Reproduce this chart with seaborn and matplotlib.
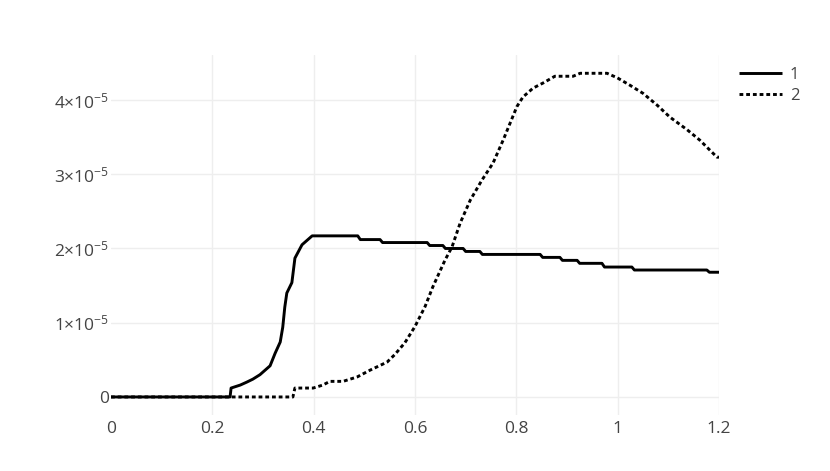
import matplotlib
matplotlib.use("Agg")
import matplotlib.pyplot as plt
import seaborn as sns
import pandas as pd

# series 1 (solid)
x1 = [0.0, 0.235, 0.237, 0.255, 0.268, 0.280, 0.294, 0.314, 0.324, 0.334, 0.339, 0.343,
      0.347, 0.357, 0.363, 0.377, 0.397, 0.487, 0.492, 0.531, 0.536, 0.624, 0.629,
      0.655, 0.660, 0.695, 0.700, 0.728, 0.733, 0.847, 0.852, 0.886, 0.891, 0.920,
      0.925, 0.969, 0.974, 1.028, 1.033, 1.176, 1.181, 1.2]
y1 = [0.0, 0.0, 0.12, 0.16, 0.20, 0.24, 0.30, 0.42, 0.59, 0.74, 0.94, 1.21,
      1.40, 1.54, 1.87, 2.05, 2.17, 2.17, 2.12, 2.12, 2.08, 2.08, 2.04,
      2.04, 2.00, 2.00, 1.96, 1.96, 1.92, 1.92, 1.88, 1.88, 1.84, 1.84,
      1.80, 1.80, 1.75, 1.75, 1.71, 1.71, 1.68, 1.68]

# series 2 (dotted)
x2 = [0.0, 0.359, 0.363, 0.399, 0.418, 0.432, 0.458, 0.486, 0.511, 0.545, 0.560, 0.580,
      0.600, 0.620, 0.635, 0.659, 0.673, 0.689, 0.709, 0.732, 0.754, 0.774, 0.801,
      0.813, 0.833, 0.853, 0.876, 0.912, 0.926, 0.979, 0.999, 1.024, 1.050, 1.078,
      1.103, 1.137, 1.162, 1.196, 1.2]
y2 = [0.0, 0.0, 0.12, 0.12, 0.16, 0.21, 0.21, 0.27, 0.36, 0.47, 0.57, 0.73,
      0.95, 1.22, 1.48, 1.84, 2.02, 2.34, 2.65, 2.92, 3.15, 3.46, 3.91,
      4.04, 4.16, 4.23, 4.32, 4.32, 4.36, 4.36, 4.30, 4.20, 4.09, 3.93,
      3.77, 3.60, 3.46, 3.23, 3.23]

names = ["1", "2"]
xticks = [0, 0.2, 0.4, 0.6, 0.8, 1, 1.2]
xtick_labels = ["0", "0.2", "0.4", "0.6", "0.8", "1", "1.2"]
yticks = [0, 1e-5, 2e-5, 3e-5, 4e-5]
ytick_labels = ["0", r"1×10$^{-5}$", r"2×10$^{-5}$", r"3×10$^{-5}$", r"4×10$^{-5}$"]

sns.set_style("white")
plt.rcParams["font.family"] = ["Open Sans", "DejaVu Sans"]
plt.rcParams["mathtext.fontset"] = "custom"
plt.rcParams["mathtext.rm"] = "Open Sans"
plt.rcParams["mathtext.it"] = "Open Sans"
plt.rcParams["mathtext.default"] = "regular"

fig = plt.figure(figsize=(8.3, 4.71), dpi=100)
ax = fig.add_axes([111 / 830, (471 - 415) / 471, 608 / 830, 360.5 / 471])

df1 = pd.DataFrame({"x": x1, "y": [v * 1e-5 for v in y1]})
df2 = pd.DataFrame({"x": x2, "y": [v * 1e-5 for v in y2]})
sns.lineplot(data=df1, x="x", y="y", ax=ax, color="black", linewidth=2.1,
             estimator=None, sort=False, label=names[0])
sns.lineplot(data=df2, x="x", y="y", ax=ax, color="black", linewidth=2.1,
             estimator=None, sort=False, label=names[1])
ax.lines[1].set_linestyle((0, (1.3, 1.0)))
for ln in ax.lines:
    ln.set_solid_capstyle("butt")
    ln.set_dash_capstyle("butt")

ax.set_xlim(0, 1.2)
ax.set_ylim(-0.243e-5, 4.613e-5)
ax.set_xticks(xticks)
ax.set_xticklabels(xtick_labels)
ax.set_yticks(yticks)
ax.set_yticklabels(ytick_labels)
ax.set_xlabel("")
ax.set_ylabel("")
ax.grid(True, color="#eeeeee", linewidth=1)
ax.xaxis.get_gridlines()[0].set_visible(False)
ax.set_axisbelow(True)
for s in ax.spines.values():
    s.set_visible(False)
ax.tick_params(axis="both", length=0, labelsize=12.5, colors="#444444")
ax.tick_params(axis="x", pad=4)
ax.tick_params(axis="y", pad=1.5)

leg = ax.legend(loc="upper left", bbox_to_anchor=(739 / 830, (471 - 67) / 471),
                bbox_transform=fig.transFigure, frameon=False, fontsize=12,
                handlelength=2.6, handletextpad=0.45, labelspacing=0.3,
                borderaxespad=0, borderpad=0)
for t in leg.get_texts():
    t.set_color("#444444")

fig.savefig("out.png", dpi=100)
